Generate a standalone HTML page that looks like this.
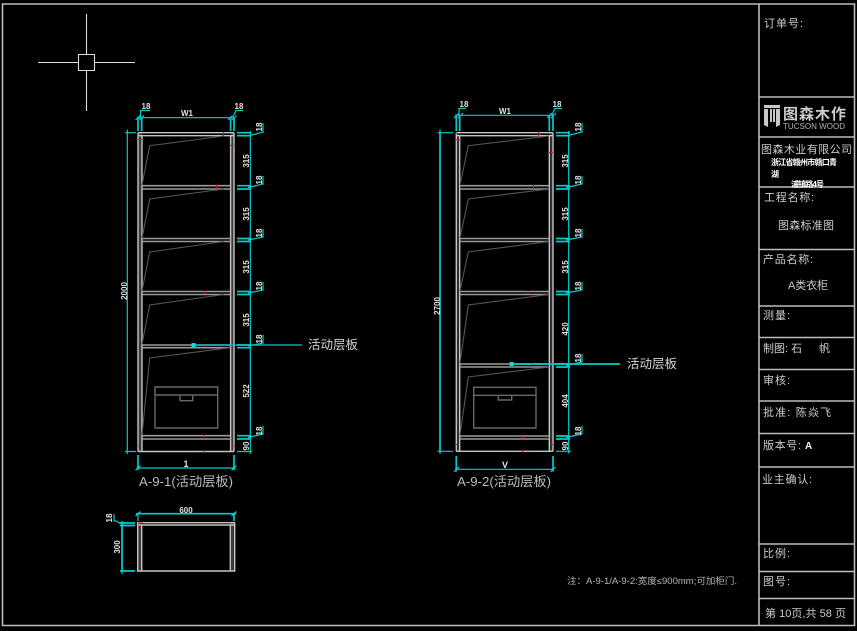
<!DOCTYPE html>
<html><head><meta charset="utf-8"><style>
html,body{margin:0;padding:0;background:#000;width:857px;height:631px;overflow:hidden}
svg{display:block}
text{font-family:"Liberation Sans","WenQuanYi Zen Hei","Noto Sans CJK SC",sans-serif;fill:#ccc}
.f{stroke:#bcbcbc;fill:none;stroke-width:1.6}
.w{stroke:#c4c4c4;fill:none;stroke-width:1.4}
.s{stroke:#9a9a9a;fill:none;stroke-width:1.6}
.g{stroke:#565656;fill:none;stroke-width:1.1}
.b{stroke:#686868;fill:none;stroke-width:1.4}
.c{stroke:#00cccc;fill:none;stroke-width:1.2}
.e{stroke:#00cccc;fill:none;stroke-width:1.7}
.r{stroke:#d01010;fill:none;stroke-width:1}
.d{font-size:8px;font-weight:bold;fill:#e2e2e2;text-anchor:middle}
.t{font-size:11px;fill:#ccc}
</style></head><body>
<svg width="857" height="631" viewBox="0 0 857 631" xmlns="http://www.w3.org/2000/svg">
<rect width="857" height="631" fill="#000"/>
<!-- frame -->
<path class="f" d="M2.5 4H854.5V625.5H2.5ZM759 4V625.5M759 97H854.5M759 137H854.5M759 187H854.5M759 249.5H854.5M759 306H854.5M759 337.5H854.5M759 369.5H854.5M759 401H854.5M759 433.5H854.5M759 467H854.5M759 544H854.5M759 571.5H854.5M759 598.5H854.5"/>
<!-- crosshair -->
<path stroke="#ddd" fill="none" stroke-width="1.1" d="M86.5 14V54.5M86.5 70.5V111M38 62.5H78.5M94.5 62.5H135M78.5 54.5H94.5V70.5H78.5Z"/>

<!-- CABINET 1 -->
<g>
<rect x="138" y="133" width="4" height="318" fill="#3a3a3a"/>
<rect x="230.6" y="133" width="3.4" height="318" fill="#3a3a3a"/>
<path class="w" d="M138 132.7H234M138 135.7H234M138 132.7V451.5M142 135.7V451.5M230.6 135.7V451.5M234 132.7V451.5M138 451.5H234"/>
<path class="s" d="M142 185.7H230.6M142 189H230.6M142 238.5H230.6M142 241.5H230.6M142 291.5H230.6M142 294.5H230.6M142 345H230.6M142 347.7H230.6M142 435.7H230.6M142 439H230.6"/>
<path class="g" d="M224 136L149.7 145.7L142 185M224 189L149.7 199L142 238M224 241.5L149.7 252L142 291M224 294.5L149.7 305L142 344M230 347.7L149.7 358L142 435"/>
<path class="b" d="M155 387H217.7V428H155ZM155 395H217.7M180 395V400.7H192.7V395"/>
<path class="r" d="M223.5 132V136M138 139.5H142M230 145.5H234M216.5 184.5V189M204.5 291V294M204 344V347M204 435V439M138 446H140M204 450V452M232 446H234"/>
<!-- left dim -->
<path class="c" d="M127.3 132.7V451.5M125 132.7H136M125 451.5H136M127.3 129.5V136M127.3 448.5V454"/>
<text class="d" transform="translate(127,291) rotate(-90)">2000</text>
<!-- top dim -->
<path class="c" d="M137 117.7H235M135.5 120L140 115.5M139.5 120L144 115.5M228 120L232.5 115.5M232 120L236.5 115.5M140.5 117V110.5H150M233 117L236 110.5H243"/>
<path class="e" d="M138 118V131M141.7 118V131M230.6 118V131M234 118V131"/>
<text class="d" x="187" y="116">W1</text>
<text class="d" x="146" y="109">18</text>
<text class="d" x="239" y="109">18</text>
<!-- right dim -->
<path class="c" d="M250.3 131V454M237 451.5H252M248 136L263 132V123M248 187.5L263 184V176M248 240L263 237V229M248 293L263 290V282M248 346L263 343V335M248 437.5L263 434V426"/>
<path class="e" d="M237 132.7H251M237 135.7H251M237 185.7H251M237 189H251M237 238.5H251M237 241.5H251M237 291.5H251M237 294.5H251M237 345H251M237 347.7H251M237 435.7H251M237 439H251"/>
<text class="d" transform="translate(249,161) rotate(-90)">315</text>
<text class="d" transform="translate(249,214) rotate(-90)">315</text>
<text class="d" transform="translate(249,267) rotate(-90)">315</text>
<text class="d" transform="translate(249,320) rotate(-90)">315</text>
<text class="d" transform="translate(249,391) rotate(-90)">522</text>
<text class="d" transform="translate(249,446) rotate(-90)">90</text>
<text class="d" transform="translate(262,127) rotate(-90)">18</text>
<text class="d" transform="translate(262,180) rotate(-90)">18</text>
<text class="d" transform="translate(262,233) rotate(-90)">18</text>
<text class="d" transform="translate(262,286) rotate(-90)">18</text>
<text class="d" transform="translate(262,339) rotate(-90)">18</text>
<text class="d" transform="translate(262,431) rotate(-90)">18</text>
<!-- bottom dim -->
<path class="c" d="M136.5 468H235.5M135.5 470.5L140.5 465.5M231.5 470.5L236.5 465.5"/>
<path class="e" d="M138 455V470M234 455V470"/>
<text class="d" x="186" y="467" style="font-size:9px">1</text>
<text x="139" y="486" font-size="13" textLength="94" lengthAdjust="spacingAndGlyphs" style="fill:#bbb">A-9-1(活动层板)</text>
<!-- leader -->
<path class="c" d="M193 345H302"/>
<rect x="191.500" y="343" width="4" height="4" fill="#00e0e0"/>
<text x="308" y="349" font-size="12.5" textLength="50" style="fill:#d4d4d4">活动层板</text>
</g>

<!-- CABINET 2 -->
<g>
<rect x="456.3" y="133" width="3.4" height="318" fill="#303030"/>
<rect x="549.3" y="133" width="3.700" height="318" fill="#303030"/>
<path class="w" d="M456.3 132.7H553M456.3 135.7H553M456.3 132.700V451.3M459.7 135.7V451.3M549.3 135.7V451.3M553 132.7V451.3M456.3 451.3H553"/>
<path class="s" d="M459.7 185.7H549.3M459.7 189H549.3M459.7 238.5H549.3M459.7 241.5H549.3M459.7 291.5H549.3M459.7 294.5H549.3M459.7 364H549.3M459.7 367H549.3M459.7 436H549.3M459.7 439H549.3"/>
<path class="g" d="M549 136L468.3 145.7L460 185M549 189L468.3 199L460 238M549 241.5L468.3 252L460 291M549 294.5L468.3 305L460 363M549 367L468.3 377L460 435"/>
<path class="b" d="M473.7 387.3H536V428H473.7ZM473.7 395.3H536M498.3 395.3V400H511.7V395.3"/>
<path class="r" d="M538.5 132V136M456 140H460M456 133.5H458M549 152.5H553M533.5 184.5V189M528 291V294M529 363.5V367M522.5 436V439M456 444.5H458M551 444.5H553M522.5 450V452"/>
<!-- left dim -->
<path class="c" d="M437.500 132.7H453M437.5 451.3H453M440 129.5V136M440 448.5V454"/>
<path class="e" d="M440 132.7V451.3"/>
<text class="d" transform="translate(440,306) rotate(-90)">2700</text>
<!-- top dim -->
<path class="c" d="M455 115.3H554M454 118L459 113M458 118L463 113M547 118L552 113M551 118L556 113M459 115V108.5H466M552 115L555 108.5H562"/>
<path class="e" d="M456.3 116V131M459.7 116V131M549.3 116V131M553 116V131"/>
<text class="d" x="505" y="114">W1</text>
<text class="d" x="464" y="107">18</text>
<text class="d" x="557" y="107">18</text>
<!-- right dim -->
<path class="c" d="M568.7 131V453.5M556 451.3H571M566 136L582 132V123M566 187.5L582 184V176M566 240L582 237V229M566 293L582 290V282M566 365.5L582 362V354M566 437.5L582 434V426"/>
<path class="e" d="M556 132.7H570M556 135.7H570M556 185.7H570M556 189H570M556 238.5H570M556 241.5H570M556 291.5H570M556 294.5H570M556 364H570M556 367H570M556 436H570M556 439H570"/>
<text class="d" transform="translate(568,161) rotate(-90)">315</text>
<text class="d" transform="translate(568,214) rotate(-90)">315</text>
<text class="d" transform="translate(568,267) rotate(-90)">315</text>
<text class="d" transform="translate(568,329) rotate(-90)">420</text>
<text class="d" transform="translate(568,401) rotate(-90)">404</text>
<text class="d" transform="translate(568,446) rotate(-90)">90</text>
<text class="d" transform="translate(581,127) rotate(-90)">18</text>
<text class="d" transform="translate(581,180) rotate(-90)">18</text>
<text class="d" transform="translate(581,233) rotate(-90)">18</text>
<text class="d" transform="translate(581,286) rotate(-90)">18</text>
<text class="d" transform="translate(581,358) rotate(-90)">18</text>
<text class="d" transform="translate(581,431) rotate(-90)">18</text>
<!-- bottom dim -->
<path class="c" d="M455 469.3H554M454 472L459 467M550.5 472L555.5 467"/>
<path class="e" d="M456.3 456V471.5M553 456V471.5"/>
<text class="d" x="505" y="468" style="font-size:9px">V</text>
<text x="457" y="486" font-size="13" textLength="94" lengthAdjust="spacingAndGlyphs" style="fill:#bbb">A-9-2(活动层板)</text>
<!-- leader -->
<path class="e" d="M511 364H620"/>
<rect x="509.500" y="362" width="4" height="4" fill="#00e0e0"/>
<text x="627" y="368" font-size="12.5" textLength="50" style="fill:#d4d4d4">活动层板</text>
</g>

<!-- PLAN -->
<g>
<rect x="138" y="523" width="4" height="48" fill="#3a3a3a"/>
<rect x="230.3" y="523" width="4" height="48" fill="#3a3a3a"/>
<path class="w" d="M137.7 522.7H234.7V571H137.7ZM137.7 525H234.7M141.7 525V571M230.3 525V571"/>
<path class="r" d="M138 523H143M138 526H141"/>
<path class="e" d="M136 513.7H236M234 514V521M122 523V572M120 523H135M120 525.5H135M120 571H135"/>
<path class="c" d="M138 514V521M135.500 516L140.5 511.5M231.5 516L236.5 511.5M122 521V574M120 523.5L116 521H114V514"/>
<text class="d" x="186" y="513">600</text>
<text class="d" transform="translate(120,547) rotate(-90)">300</text>
<text class="d" transform="translate(112,518) rotate(-90)">18</text>
</g>

<!-- note -->
<text x="567" y="584" font-size="9" textLength="170" lengthAdjust="spacingAndGlyphs" style="fill:#b8b8b8">注：A-9-1/A-9-2:宽度≤900mm;可加柜门.</text>

<!-- title block -->
<text class="t" x="764" y="27" textLength="39">订单号:</text>
<!-- logo -->
<path fill="#c8c8c8" d="M764 105H780V108H764ZM764 109H768V127L764 125ZM770 109H772V122H770ZM773 109H775V122H773ZM776 109H780V125L776 127Z"/>
<text x="783" y="119" font-size="15" font-weight="bold" textLength="63" style="fill:#ccc">图森木作</text>
<text x="783" y="129" font-size="8" textLength="62" style="fill:#b4b4b4">TUCSON WOOD</text>
<text x="761" y="153" font-size="11" textLength="91">图森木业有限公司</text>
<text x="771" y="165" font-size="8" font-weight="bold" style="fill:#fff" textLength="66">浙江省赣州市赣口青</text>
<text x="771" y="177" font-size="8" font-weight="bold" style="fill:#fff">湖</text>
<text x="791" y="187" font-size="8" font-weight="bold" style="fill:#fff" textLength="33">浦镇路4号</text>
<text class="t" x="764" y="201" textLength="50">工程名称:</text>
<text class="t" x="778" y="229" textLength="56">图森标准图</text>
<text class="t" x="763" y="263" textLength="50">产品名称:</text>
<text class="t" x="788" y="289" textLength="40">A类衣柜</text>
<text class="t" x="763" y="319" textLength="27">测量:</text>
<text class="t" x="763" y="352">制图: 石</text>
<text class="t" x="819" y="352">帆</text>
<text class="t" x="763" y="384" textLength="27">审核:</text>
<text class="t" x="763" y="416" textLength="68">批准: 陈焱飞</text>
<text class="t" x="763" y="449" textLength="38">版本号:</text>
<text x="805" y="449" font-size="10" font-weight="bold" style="fill:#eee">A</text>
<text class="t" x="762" y="483" textLength="50">业主确认:</text>
<text class="t" x="763" y="557" textLength="27">比例:</text>
<text class="t" x="763" y="585" textLength="27">图号:</text>
<text class="t" x="765" y="617" textLength="81">第 10页,共 58 页</text>
</svg>
</body></html>
